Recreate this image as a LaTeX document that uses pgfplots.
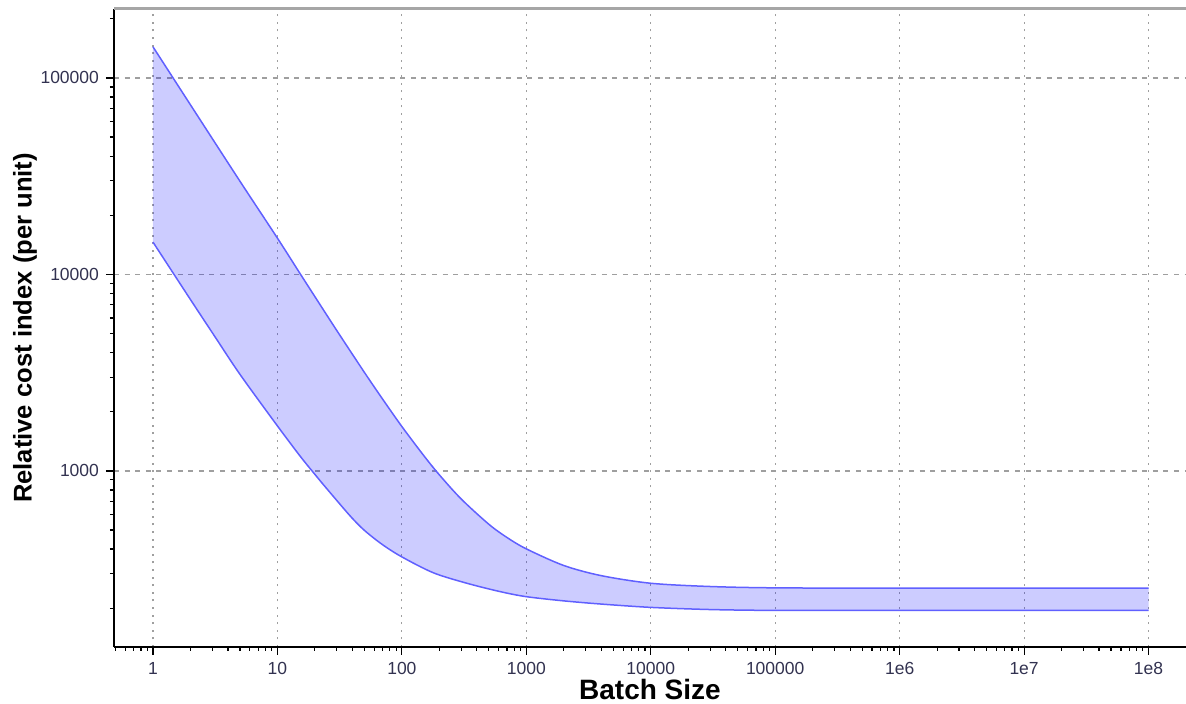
\documentclass[border=0pt]{standalone}
\usepackage{pgfplots}
\pgfplotsset{compat=1.18}
\usepackage{pgfplotstable}
\usepgfplotslibrary{fillbetween}
\usepackage{fontspec}
\setmainfont{Liberation Sans}
\definecolor{linec}{RGB}{96,96,255}
\definecolor{tickc}{RGB}{50,50,80}

\pgfplotstableread{
n upper
1 144000
2 73000
5 29800
10 15300
15.2 10100
20 7710
30 5180
50 3172
70 2320
100 1682
150 1196
200 955
300 719
500 535
700 458
1000 401
2000 330
4000 293
10000 268
30000 258
100000 254
1000000 253
100000000 253
}\uppertab

\pgfplotstableread{
n lower
1 14600
2 7450
3.16 4800
5 3100
10 1694
15.2 1190
20 960
25 810
38.4 590
50 498
70 421
100 365
179 303
333 268
616 243
1000 229
2000 218
4000 210
10000 202
30000 197
100000 195
1000000 195
100000000 195
}\lowertab

\begin{document}
\begin{tikzpicture}
\begin{axis}[
  scale only axis,
  width=536pt, height=319pt,
  xmode=log, ymode=log,
  xmin=0.486, xmax=2.0e8,
  ymin=127, ymax=224400,
  axis x line*=bottom, axis y line*=left,
  axis line style={-, black, line width=0.8pt},
  tick align=outside,
  major tick length=4pt, minor tick length=2pt,
  every tick/.style={black, line width=0.6pt},
  xtick={1,10,100,1000,10000,100000,1000000,10000000,100000000},
  xticklabels={1,10,100,1000,10000,100000,1e6,1e7,1e8},
  minor xtick={0.5,0.6,0.7,0.8,0.9,2,3,4,5,6,7,8,9,20,30,40,50,60,70,80,90,200,300,400,500,600,700,800,900,2000,3000,4000,5000,6000,7000,8000,9000,20000,30000,40000,50000,60000,70000,80000,90000,200000,300000,400000,500000,600000,700000,800000,900000,2e6,3e6,4e6,5e6,6e6,7e6,8e6,9e6,2e7,3e7,4e7,5e7,6e7,7e7,8e7,9e7},
  ytick={1000,10000,100000},
  yticklabels={1000,10000,100000},
  minor ytick={200,300,400,500,600,700,800,900,2000,3000,4000,5000,6000,7000,8000,9000,20000,30000,40000,50000,60000,70000,80000,90000,200000},
  /pgf/number format/assume math mode=true,
  ticklabel style={font=\fontsize{8.75}{10}\selectfont, text=tickc},
  xmajorgrids, ymajorgrids,
  major x grid style={gray!75, line width=0.6pt, dash pattern=on 1pt off 2.8pt},
  major y grid style={gray!75, line width=0.6pt, dash pattern=on 2.5pt off 2.8pt},
  xlabel={Batch Size},
  ylabel={Relative cost index (per unit)},
  xlabel style={font=\bfseries\fontsize{14}{16}\selectfont, at={(axis description cs:0.5,0)}, anchor=center, yshift=-21.5pt},
  ylabel style={font=\bfseries\fontsize{12.8}{15}\selectfont, at={(axis description cs:0,0.5)}, anchor=center, yshift=44.5pt},
]
\addplot[draw=none, smooth, name path=U, forget plot] table[x=n, y=upper] {\uppertab};
\addplot[draw=none, smooth, name path=L, forget plot] table[x=n, y=lower] {\lowertab};
\addplot[fill=blue, fill opacity=0.2, draw=none] fill between[of=U and L];
\addplot[linec, line width=0.75pt, smooth] table[x=n, y=upper] {\uppertab};
\addplot[linec, line width=0.75pt, smooth] table[x=n, y=lower] {\lowertab};
\end{axis}
\draw[gray!70, line width=1.5pt] (current axis.north west) -- (current axis.north east);
\pgfresetboundingbox
\path[use as bounding box] ([shift={(-57pt,-28.5pt)}]current axis.south west) rectangle ([shift={(0pt,4.5pt)}]current axis.north east);
\end{tikzpicture}
\end{document}
